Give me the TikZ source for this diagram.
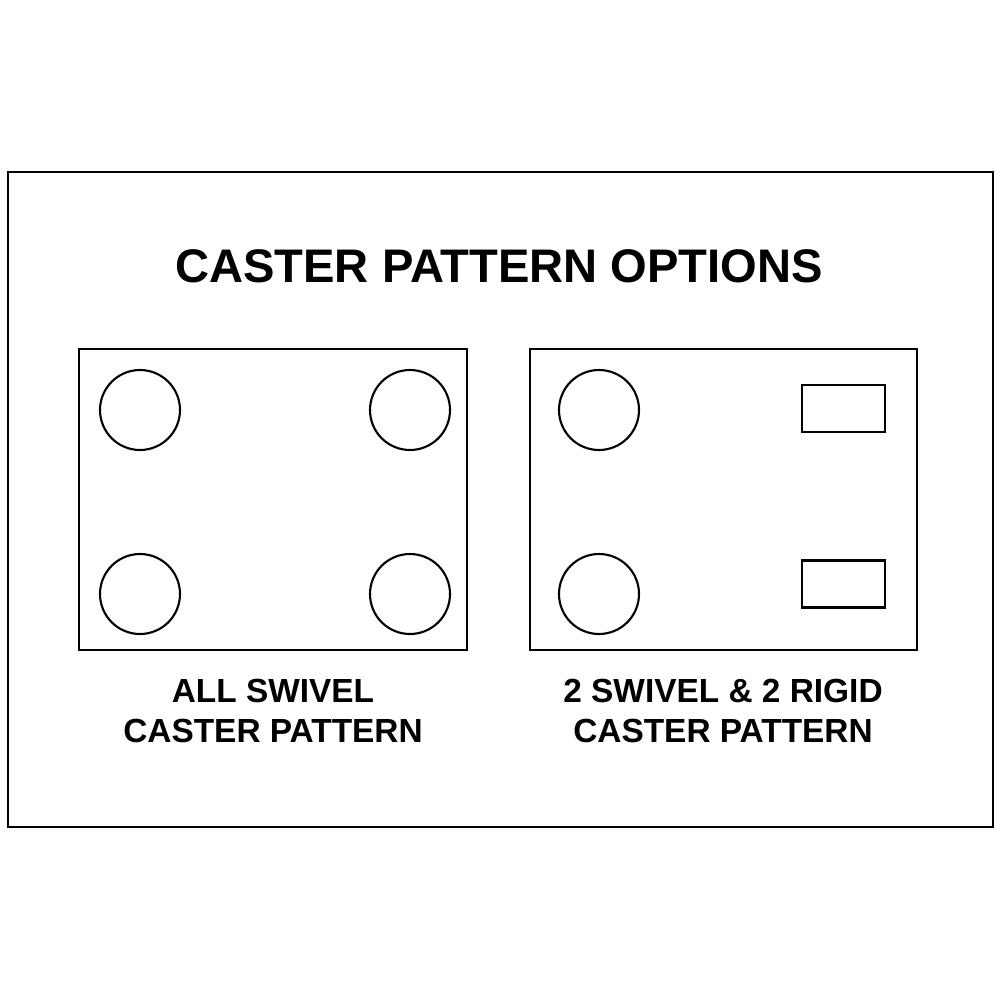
\documentclass[tikz,border=0pt]{standalone}
\usepackage{fontspec}
\setmainfont{Liberation Sans}
\begin{document}
\begin{tikzpicture}[x=0.01cm,y=-0.01cm,
  frame/.style={draw=black,line width=0.6pt},
  caster/.style={draw=black,line width=0.6pt,circle,minimum size=80*0.01cm,inner sep=0pt},
  rigid/.style={draw=black,line width=0.6pt,rectangle,minimum width=83*0.01cm,minimum height=47*0.01cm,inner sep=0pt},
  title/.style={font=\bfseries\fontsize{13.4}{15}\selectfont,inner sep=0pt},
  label/.style={font=\bfseries\fontsize{9.5}{11.4}\selectfont,align=center,inner sep=0pt}]
\useasboundingbox[fill=white] (0,0) rectangle (1000,1000);
\draw[frame] (8,172) rectangle (993,827);
\node[title] (t) at (499,266) {CASTER PATTERN OPTIONS};
% left
\node[frame,rectangle,minimum width=388*0.01cm,minimum height=301*0.01cm,inner sep=0pt] (L) at (273,499.5) {};
\node[caster] (l1) at (140,410) {};
\node[caster] (l2) at (410,410) {};
\node[caster] (l3) at (140,594) {};
\node[caster] (l4) at (410,594) {};
\node[label] (lt) at (273,711) {ALL SWIVEL\\CASTER PATTERN};
% right
\node[frame,rectangle,minimum width=387*0.01cm,minimum height=301*0.01cm,inner sep=0pt] (R) at (723.5,499.5) {};
\node[caster] (r1) at (599,410) {};
\node[caster] (r3) at (599,594) {};
\node[rigid] (r2) at (843.5,408.5) {};
\node[rigid] (r4) at (843.5,584) {};
\node[label] (rt) at (723,711) {2 SWIVEL \& 2 RIGID\\CASTER PATTERN};
\end{tikzpicture}
\end{document}
